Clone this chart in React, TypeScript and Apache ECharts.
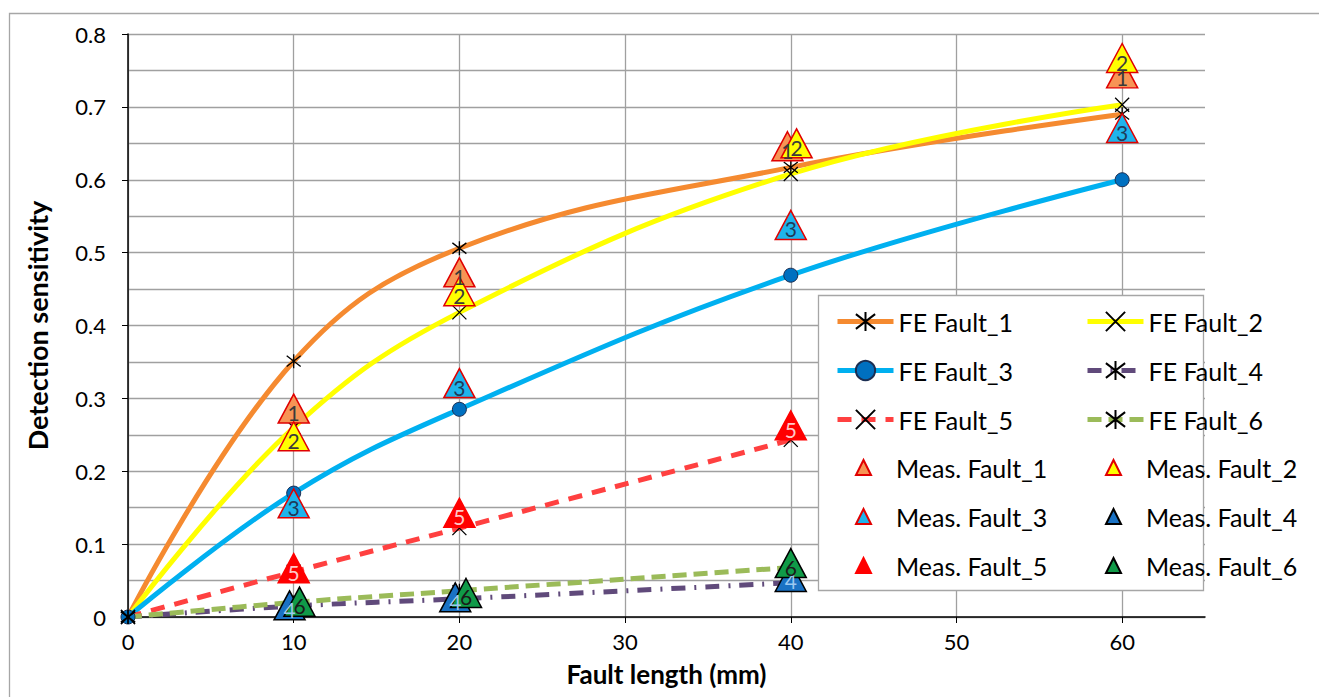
import React, { useEffect, useRef } from "react";
import * as echarts from "echarts";

// ---- data ----
const xFE = [0, 10, 20, 40, 60];
const xFEshort = [0, 10, 20, 40];
const fe1 = [0, 0.351, 0.506, 0.617, 0.69];
const fe2 = [0, 0.26, 0.418, 0.608, 0.703];
const fe3 = [0, 0.17, 0.285, 0.469, 0.6];
const fe4 = [0, 0.015, 0.025, 0.047];
const fe5 = [0, 0.062, 0.122, 0.243];
const fe6 = [0, 0.02, 0.036, 0.068];

const xMeas1 = [10, 20, 39.8, 60];
const meas1 = [0.286, 0.473, 0.646, 0.746];
const xMeas2 = [10, 20, 40.35, 60];
const meas2 = [0.248, 0.447, 0.65, 0.767];
const xMeas3 = [10, 20, 40, 60];
const meas3 = [0.156, 0.321, 0.538, 0.671];
const xMeas4 = [9.75, 19.75, 40];
const meas4 = [0.016, 0.027, 0.055];
const xMeas5 = [10, 20, 40];
const meas5 = [0.067, 0.143, 0.263];
const xMeas6 = [10.35, 20.4, 40];
const meas6 = [0.021, 0.033, 0.074];

const yTicks = [0, 0.1, 0.2, 0.3, 0.4, 0.5, 0.6, 0.7, 0.8];
const xTicks = [0, 10, 20, 30, 40, 50, 60];

const FONT = "Lato";
const X_SYM = "path://M0,0L10,10M10,0L0,10";
const AST_SYM = "path://M0,0L10,10M10,0L0,10M5,-1.5L5,11.5";

const zip = (xs: number[], ys: number[]) => xs.map((x, i) => [x, ys[i]]);

function feSeries(name: string, xs: number[], ys: number[], color: string, type: any, symbol: string, symStyle?: any) {
  return {
    name,
    type: "line",
    data: zip(xs, ys),
    smooth: 0.4,
    z: 2,
    symbol,
    symbolSize: 14,
    lineStyle: { color, width: 5, type },
    itemStyle: symStyle || { color: "rgba(0,0,0,0)", borderColor: "#000", borderWidth: 1.3 },
    emphasis: { disabled: true },
  };
}

function measSeries(name: string, xs: number[], ys: number[], fill: string, border: string, label: string, labelColor: string) {
  return {
    name,
    type: "scatter",
    data: zip(xs, ys),
    z: 3,
    symbol: "triangle",
    symbolSize: [31, 29],
    itemStyle: { color: fill, borderColor: border, borderWidth: 1.5, opacity: 1 },
    label: {
      show: true,
      position: "inside",
      formatter: label,
      fontFamily: FONT,
      fontSize: 21,
      color: labelColor,
      offset: [0, 4],
    },
    emphasis: { disabled: true },
  };
}

export default function App() {
  const ref = useRef<HTMLDivElement>(null);
  useEffect(() => {
    if (!ref.current) return;
    const chart = echarts.init(ref.current, undefined, { renderer: "svg" });
    const legendText = { fontFamily: FONT, fontSize: 25, color: "#000", lineHeight: 25 };
    const commonLegend = {
      orient: "vertical",
      itemGap: 24,
      z: 20,
      selectedMode: false,
      padding: 0,
      lineStyle: { width: 5 },
    };
    chart.setOption({
      animation: false,
      backgroundColor: "#fff",
      grid: { left: 128, top: 34, right: 114, bottom: 80, outerBoundsMode: "none", containLabel: false },
      xAxis: {
        type: "value",
        min: 0,
        max: 65,
        interval: 10,
        name: "Fault length (mm)",
        nameLocation: "middle",
        nameGap: 44,
        nameTextStyle: { fontFamily: FONT, fontSize: 26, fontWeight: "bold", color: "#000" },
        axisLine: { show: true, onZero: false, lineStyle: { color: "#000", width: 1.5 } },
        axisTick: { show: true, length: 6, lineStyle: { color: "#000" }, customValues: xTicks },
        axisLabel: {
          fontFamily: FONT,
          fontSize: 22,
          color: "#000",
          margin: 13,
          customValues: xTicks,
          formatter: (v: number) => (xTicks.includes(v) ? String(v) : ""),
        },
        splitLine: { show: true, lineStyle: { color: "#A0A0A0", width: 1.3 } },
      },
      yAxis: {
        type: "value",
        min: 0,
        max: 0.8,
        interval: 0.1,
        name: "Detection sensitivity",
        nameLocation: "middle",
        nameGap: 77,
        nameTextStyle: { fontFamily: FONT, fontSize: 27, fontWeight: "bold", color: "#000" },
        axisLine: { show: true, lineStyle: { color: "#000", width: 1.5 } },
        axisTick: { show: true, length: 6, lineStyle: { color: "#000" } },
        axisLabel: {
          fontFamily: FONT,
          fontSize: 22,
          color: "#000",
          margin: 22,
          formatter: (v: number) => {
            const t = yTicks.find((k) => Math.abs(k - v) < 1e-6);
            return t === undefined ? "" : t === 0 ? "0" : t.toFixed(1);
          },
        },
        splitLine: { show: true, lineStyle: { color: "#A0A0A0", width: 1.3 } },
        minorTick: { show: false, splitNumber: 2 },
        minorSplitLine: { show: true, lineStyle: { color: "#A0A0A0", width: 1.3 } },
      },
      graphic: [
        {
          type: "rect",
          shape: { x: 9.5, y: 13.5, width: 1400, height: 800 },
          style: { fill: "none", stroke: "#A6A6A6", lineWidth: 1.3 },
          z: 0,
          silent: true,
        },
        {
          type: "rect",
          shape: { x: 818.5, y: 295.5, width: 385, height: 295 },
          style: { fill: "#fff", stroke: "#A6A6A6", lineWidth: 1.3 },
          z: 10,
          silent: true,
        },
      ],
      legend: [
        { ...commonLegend, left: 835, top: 309, itemWidth: 56, itemHeight: 24, textStyle: legendText, data: ["FE Fault_1", "FE Fault_3", "FE Fault_5"] },
        { ...commonLegend, left: 1085, top: 309, itemWidth: 56, itemHeight: 24, textStyle: legendText, data: ["FE Fault_2", "FE Fault_4", "FE Fault_6"] },
        { ...commonLegend, left: 855, top: 455, itemWidth: 15, itemHeight: 15, textStyle: { ...legendText, padding: [0, 0, 0, 20] }, data: ["Meas. Fault_1", "Meas. Fault_3", "Meas. Fault_5"] },
        { ...commonLegend, left: 1105, top: 455, itemWidth: 15, itemHeight: 15, textStyle: { ...legendText, padding: [0, 0, 0, 20] }, data: ["Meas. Fault_2", "Meas. Fault_4", "Meas. Fault_6"] },
      ],
      series: [
        feSeries("FE Fault_1", xFE, fe1, "#F58A30", "solid", AST_SYM),
        feSeries("FE Fault_2", xFE, fe2, "#FFFF00", "solid", X_SYM),
        feSeries("FE Fault_3", xFE, fe3, "#00B0F0", "solid", "circle", {
          color: "#0070C0",
          borderColor: "#1B2E52",
          borderWidth: 1,
        }),
        feSeries("FE Fault_4", xFEshort, fe4, "#604A7B", [14, 9, 2, 9], AST_SYM),
        feSeries("FE Fault_5", xFEshort, fe5, "#FF4040", [14, 10], X_SYM),
        feSeries("FE Fault_6", xFEshort, fe6, "#9BBB59", [14, 7], AST_SYM),
        measSeries("Meas. Fault_1", xMeas1, meas1, "#F79455", "#E00000", "1", "#3A3A3A"),
        measSeries("Meas. Fault_2", xMeas2, meas2, "#FFFF00", "#E00000", "2", "#3A3A3A"),
        measSeries("Meas. Fault_3", xMeas3, meas3, "#1EB4EC", "#E00000", "3", "#1F3A5A"),
        measSeries("Meas. Fault_4", xMeas4, meas4, "#1A72C4", "#000", "4", "#9CC8F0"),
        measSeries("Meas. Fault_5", xMeas5, meas5, "#FF0000", "#FF0000", "5", "#FFC8C8"),
        measSeries("Meas. Fault_6", xMeas6, meas6, "#109A48", "#000", "6", "#1A1A1A"),
      ],
    });
    return () => chart.dispose();
  }, []);
  return (
    <div
      ref={ref}
      style={{ position: "fixed", left: 0, top: 0, width: 1319, height: 697 }}
    />
  );
}
